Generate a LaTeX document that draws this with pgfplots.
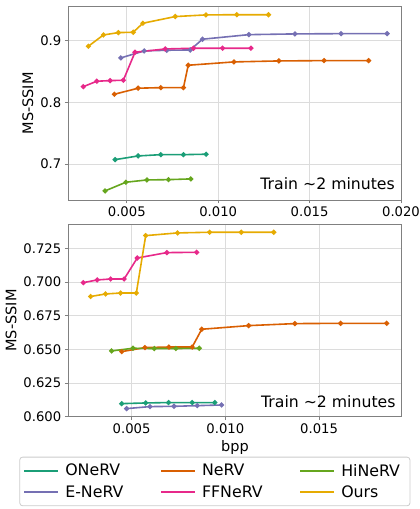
\documentclass[border=0pt]{standalone}
\usepackage{fontspec}
\setmainfont{DejaVu Sans}
\usepackage{pgfplots}
\pgfplotsset{compat=1.18}

\definecolor{cONeRV}{HTML}{1B9E77}
\definecolor{cNeRV}{HTML}{D95F02}
\definecolor{cENeRV}{HTML}{7570B3}
\definecolor{cFFNeRV}{HTML}{E7298A}
\definecolor{cHiNeRV}{HTML}{66A61E}
\definecolor{cOurs}{HTML}{E6AB02}
\definecolor{spine}{HTML}{808080}
\definecolor{gridc}{HTML}{DCDCDC}

\pgfplotsset{
  rd/.style={
    scale only axis,
    axis line style={spine, line width=0.8pt},
    grid=major,
    major grid style={gridc, line width=0.8pt},
    tick style={spine, line width=0.8pt},
    tick align=outside,
    major tick length=3.5pt,
    xtick pos=bottom, ytick pos=left,
    tick label style={font=\fontsize{13.2}{15}\selectfont},
    label style={font=\fontsize{14.5}{17}\selectfont},
    /pgf/number format/assume math mode=true,
    /pgf/number format/fixed,
    /pgf/number format/fixed zerofill,
    every axis plot/.append style={line width=1.6pt, mark=*, mark size=1.7pt},
    scaled x ticks=false, scaled y ticks=false,
  },
}

\begin{document}
\begin{tikzpicture}
\useasboundingbox (0pt,0pt) rectangle (420pt,509pt);

% Upper panel
\begin{axis}[rd,
  at={(68.3pt,309pt)}, anchor=south west,
  width=332.7pt, height=193.3pt,
  xmin=0.0018, xmax=0.0200,
  ymin=0.6417, ymax=0.955,
  xtick={0.005,0.010,0.015,0.020},
  xticklabel style={/pgf/number format/precision=3},
  ytick={0.7,0.8,0.9},
  yticklabel style={/pgf/number format/precision=1},
  ylabel={MS-SSIM},
]
\addplot[cONeRV, mark options={fill=cONeRV}] coordinates {
  (0.00436,0.7071) (0.00562,0.7131) (0.00686,0.7152) (0.00810,0.7152) (0.00934,0.7159)};
\addplot[cNeRV, mark options={fill=cNeRV}] coordinates {
  (0.00432,0.8131) (0.00562,0.8229) (0.00686,0.8238) (0.00810,0.8238) (0.00836,0.8601)
  (0.01086,0.8655) (0.01332,0.8671) (0.01579,0.8676) (0.01823,0.8676)};
\addplot[cHiNeRV, mark options={fill=cHiNeRV}] coordinates {
  (0.00381,0.6564) (0.00495,0.6705) (0.00610,0.6742) (0.00728,0.6747) (0.00850,0.6759)};
\addplot[cENeRV, mark options={fill=cENeRV}] coordinates {
  (0.00467,0.8720) (0.00595,0.8833) (0.00719,0.8844) (0.00847,0.8849) (0.00914,0.9023)
  (0.01168,0.9097) (0.01420,0.9109) (0.01672,0.9113) (0.01924,0.9113)};
\addplot[cFFNeRV, mark options={fill=cFFNeRV}] coordinates {
  (0.00262,0.8254) (0.00336,0.8342) (0.00409,0.8352) (0.00481,0.8358) (0.00545,0.8812)
  (0.00710,0.8865) (0.00865,0.8877) (0.01024,0.8877) (0.01179,0.8877)};
\addplot[cOurs, mark options={fill=cOurs}] coordinates {
  (0.00290,0.8909) (0.00372,0.9092) (0.00454,0.9130) (0.00535,0.9136) (0.00588,0.9282)
  (0.00765,0.9390) (0.00933,0.9417) (0.01102,0.9420) (0.01275,0.9420)};
\node[anchor=east, font=\fontsize{15.7}{18}\selectfont, inner sep=0pt]
  at (rel axis cs:0.982,0.0864) {Train \textasciitilde2 minutes};
\end{axis}

% Lower panel
\begin{axis}[rd,
  at={(68.3pt,92.3pt)}, anchor=south west,
  width=333.4pt, height=192.4pt,
  xmin=0.00162, xmax=0.01941,
  ymin=0.600, ymax=0.7428,
  xtick={0.005,0.010,0.015},
  xticklabel style={/pgf/number format/precision=3},
  ytick={0.600,0.625,0.650,0.675,0.700,0.725},
  yticklabel style={/pgf/number format/precision=3},
  xlabel={bpp}, ylabel={MS-SSIM},
  legend columns=3,
  legend style={
    at={(rel axis cs:0,0)}, anchor=north west,
    xshift=-49pt, yshift=-40pt,
    draw={black!20}, rounded corners=3pt, line width=0.8pt,
    font=\fontsize{15.8}{19}\selectfont,
    inner xsep=4pt, inner ysep=5pt,
    row sep=4pt,
    /tikz/every even column/.append style={column sep=31pt},
    nodes={inner xsep=6pt},
  },
  legend cell align=left,
  legend image code/.code={\draw[#1, mark=none] (0pt,0pt) -- (34pt,0pt);},
]
\addplot[cONeRV, mark options={fill=cONeRV}] coordinates {
  (0.00447,0.6097) (0.00575,0.6102) (0.00697,0.6105) (0.00823,0.6105) (0.00944,0.6105)};
\addlegendentry{ONeRV}
\addplot[cNeRV, mark options={fill=cNeRV}] coordinates {
  (0.00447,0.6483) (0.00571,0.6513) (0.00699,0.6517) (0.00823,0.6517) (0.00874,0.6649)
  (0.01124,0.6676) (0.01371,0.6691) (0.01615,0.6693) (0.01861,0.6693)};
\addlegendentry{NeRV}
\addplot[cHiNeRV, mark options={fill=cHiNeRV}] coordinates {
  (0.00393,0.6488) (0.00507,0.6508) (0.00621,0.6506) (0.00736,0.6506) (0.00861,0.6508)};
\addlegendentry{HiNeRV}
\addplot[cENeRV, mark options={fill=cENeRV}] coordinates {
  (0.00473,0.6060) (0.00598,0.6075) (0.00726,0.6077) (0.00850,0.6082) (0.00980,0.6087)};
\addlegendentry{E-NeRV}
\addplot[cFFNeRV, mark options={fill=cFFNeRV}] coordinates {
  (0.00242,0.6995) (0.00316,0.7015) (0.00388,0.7022) (0.00460,0.7022) (0.00530,0.7178)
  (0.00688,0.7218) (0.00847,0.7220)};
\addlegendentry{FFNeRV}
\addplot[cOurs, mark options={fill=cOurs}] coordinates {
  (0.00281,0.6892) (0.00361,0.6911) (0.00441,0.6918) (0.00525,0.6918) (0.00575,0.7344)
  (0.00745,0.7364) (0.00916,0.7369) (0.01085,0.7369) (0.01258,0.7369)};
\addlegendentry{Ours}
\node[anchor=east, font=\fontsize{15.7}{18}\selectfont, inner sep=0pt]
  at (rel axis cs:0.982,0.078) {Train \textasciitilde2 minutes};
\end{axis}
\end{tikzpicture}
\end{document}
